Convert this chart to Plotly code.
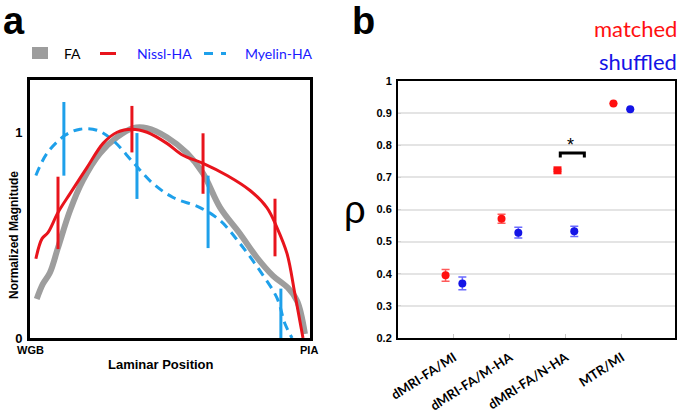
import plotly.graph_objects as go

W, H = 682, 416

# ---------------- Panel a data ----------------
fa_x = [0.024, 0.046, 0.071, 0.100, 0.143, 0.189, 0.250, 0.311, 0.368, 0.418, 0.489, 0.561, 0.618, 0.679, 0.750, 0.811, 0.868, 0.921, 0.954, 0.982]
fa_y = [0.190, 0.263, 0.317, 0.439, 0.620, 0.766, 0.898, 0.976, 1.020, 1.020, 0.976, 0.898, 0.800, 0.634, 0.507, 0.390, 0.302, 0.244, 0.180, 0.020]

nissl_x = [0.021, 0.043, 0.064, 0.100, 0.143, 0.204, 0.261, 0.311, 0.364, 0.418, 0.489, 0.546, 0.618, 0.704, 0.786, 0.846, 0.882, 0.918, 0.946, 0.975]
nissl_y = [0.385, 0.483, 0.512, 0.610, 0.702, 0.829, 0.946, 1.000, 1.015, 1.000, 0.946, 0.888, 0.849, 0.790, 0.717, 0.634, 0.537, 0.410, 0.215, 0.000]

myelin_x = [0.021, 0.061, 0.125, 0.179, 0.239, 0.296, 0.368, 0.439, 0.511, 0.607, 0.679, 0.750, 0.821, 0.882, 0.911, 0.936]
myelin_y = [0.790, 0.898, 0.985, 1.015, 1.010, 0.961, 0.854, 0.751, 0.683, 0.634, 0.571, 0.459, 0.327, 0.195, 0.068, 0.000]

nissl_err_x = [0.100, 0.364, 0.618, 0.875]
nissl_err_c = [0.608, 1.015, 0.848, 0.537]
nissl_err_h = [0.176, 0.113, 0.147, 0.140]

myelin_err_x = [0.121, 0.382, 0.636, 0.896]
myelin_err_c = [0.968, 0.836, 0.613, 0.120]
myelin_err_h = [0.179, 0.160, 0.176, 0.120]

# ---------------- Panel b data ----------------
categories = ["dMRI-FA/MI", "dMRI-FA/M-HA", "dMRI-FA/N-HA", "MTR/MI"]
matched = [0.395, 0.571, 0.722, 0.930]
matched_err = [0.018, 0.014, 0.003, 0.0]
shuffled = [0.370, 0.528, 0.532, 0.912]
shuffled_err = [0.020, 0.017, 0.016, 0.0]
y_ticks = [0.2, 0.3, 0.4, 0.5, 0.6, 0.7, 0.8, 0.9, 1.0]
y_tick_text = ["0.2", "0.3", "0.4", "0.5", "0.6", "0.7", "0.8", "0.9", "1"]

GRAY = "#9d9d9d"
RED = "#e8141c"
LBLUE = "#1ea0ea"
TXTBLUE = "#1a1aff"
BRED = "#ff1010"
BBLUE = "#1414e6"
ARIAL = "Arial, Liberation Sans, sans-serif"
CAL = "Lato, Open Sans, sans-serif"


def px(x):
    return x / W


def py(y):
    return 1 - y / H


fig = go.Figure()

fig.add_trace(go.Scatter(x=fa_x, y=fa_y, mode="lines", line=dict(color=GRAY, width=6, shape="spline"),
                         xaxis="x", yaxis="y", showlegend=False))
fig.add_trace(go.Scatter(x=myelin_x, y=myelin_y, mode="lines",
                         line=dict(color=LBLUE, width=3, shape="spline", dash="9px,6px"),
                         xaxis="x", yaxis="y", showlegend=False))
fig.add_trace(go.Scatter(x=nissl_x, y=nissl_y, mode="lines", line=dict(color=RED, width=3, shape="spline"),
                         xaxis="x", yaxis="y", showlegend=False))
fig.add_trace(go.Scatter(x=nissl_err_x, y=nissl_err_c, mode="markers", marker=dict(size=1, color=RED, opacity=0),
                         error_y=dict(type="data", array=nissl_err_h, color=RED, thickness=3, width=0),
                         xaxis="x", yaxis="y", showlegend=False))
fig.add_trace(go.Scatter(x=myelin_err_x, y=myelin_err_c, mode="markers", marker=dict(size=1, color=LBLUE, opacity=0),
                         error_y=dict(type="data", array=myelin_err_h, color=LBLUE, thickness=3, width=0),
                         xaxis="x", yaxis="y", showlegend=False))

# Panel b
xm = [i + 1 - 0.15 for i in range(len(categories))]
xs = [i + 1 + 0.15 for i in range(len(categories))]
fig.add_trace(go.Scatter(x=xm, y=matched, mode="markers",
                         marker=dict(color=BRED, size=8, symbol=["circle", "circle", "square", "circle"]),
                         error_y=dict(type="data", array=matched_err, color="#ff5a5a", thickness=1.5, width=4),
                         xaxis="x2", yaxis="y2", showlegend=False, cliponaxis=False))
fig.add_trace(go.Scatter(x=xs, y=shuffled, mode="markers",
                         marker=dict(color=BBLUE, size=8),
                         error_y=dict(type="data", array=shuffled_err, color="#6a6aff", thickness=1.5, width=4),
                         xaxis="x2", yaxis="y2", showlegend=False, cliponaxis=False))

axis_font_a = dict(family=ARIAL, size=13, color="black")

fig.update_layout(
    width=W, height=H, margin=dict(l=0, r=0, t=0, b=0, autoexpand=False),
    paper_bgcolor="white", plot_bgcolor="white",
    xaxis=dict(domain=[px(30), px(310)], range=[0, 1], anchor="y", showgrid=False, zeroline=False,
               showline=True, mirror=True, linecolor="black", linewidth=3, automargin=False,
               tickmode="array", tickvals=[], ticks=""),
    yaxis=dict(domain=[py(338), py(80)], range=[0, 1.254], anchor="x", showgrid=False, zeroline=False,
               showline=True, mirror=True, linecolor="black", linewidth=3, automargin=False,
               tickmode="array", tickvals=[0, 1], ticktext=["<b>0</b>", "<b>1</b>"],
               tickfont=axis_font_a, ticks="", ticklabelstandoff=2),
    xaxis2=dict(domain=[px(398), px(675)], range=[0, 4.95], anchor="y2", showgrid=False, zeroline=False,
                showline=True, mirror=True, linecolor="black", linewidth=2, automargin=False,
                tickmode="array", tickvals=[1, 2, 3, 4],
                ticktext=["<b>%s</b>" % c for c in categories],
                tickangle=-33, tickfont=dict(family=CAL, size=13, color="black"),
                ticks="inside", ticklen=4, tickcolor="#c8c8c8", tickwidth=1, ticklabelstandoff=5),
    yaxis2=dict(domain=[py(338), py(81)], range=[0.2, 1.0], anchor="x2", showgrid=True, gridcolor="#e4e4e4",
                gridwidth=1.5, zeroline=False, showline=True, mirror=True, linecolor="black", linewidth=2,
                automargin=False,
                tickmode="array", tickvals=y_ticks, ticktext=["<b>%s</b>" % t for t in y_tick_text],
                tickfont=dict(family=ARIAL, size=11, color="black"), ticks="inside", ticklen=3,
                tickcolor="#d0d0d0", ticklabelstandoff=2),
)

shapes = []
# legend symbols for panel a
shapes.append(dict(type="rect", xref="paper", yref="paper", x0=px(32), x1=px(48), y0=py(59), y1=py(47),
                   fillcolor=GRAY, line=dict(width=0)))
shapes.append(dict(type="line", xref="paper", yref="paper", x0=px(100), x1=px(116), y0=py(53.5), y1=py(53.5),
                   line=dict(color=RED, width=3)))
shapes.append(dict(type="line", xref="paper", yref="paper", x0=px(204), x1=px(213), y0=py(53.5), y1=py(53.5),
                   line=dict(color=LBLUE, width=3)))
shapes.append(dict(type="line", xref="paper", yref="paper", x0=px(221), x1=px(226), y0=py(53.5), y1=py(53.5),
                   line=dict(color=LBLUE, width=3)))
# significance bracket in panel b
shapes.append(dict(type="path", xref="x2", yref="y2",
                   path="M 2.90,0.762 L 2.90,0.776 L 3.33,0.776 L 3.33,0.762",
                   line=dict(color="black", width=3)))
fig.update_layout(shapes=shapes)

ann = []


def text(x, y, s, size, color="black", family=ARIAL, xanchor="center", angle=0):
    ann.append(dict(x=px(x), y=py(y), xref="paper", yref="paper", text=s, showarrow=False,
                    font=dict(family=family, size=size, color=color), xanchor=xanchor, yanchor="middle",
                    textangle=angle))


text(1, 21, "<b>a</b>", 38, xanchor="left")
text(350, 21, "<b>b</b>", 38, xanchor="left")
text(62, 54, "FA", 14, family=CAL, xanchor="left")
text(135, 54, "Nissl-HA", 14, color=TXTBLUE, family=CAL, xanchor="left")
text(243, 54, "Myelin-HA", 14, color=TXTBLUE, family=CAL, xanchor="left")
text(14, 235, "<b>Normalized Magnitude</b>", 12, angle=-90)
text(161, 364, "<b>Laminar Position</b>", 13)
text(30, 350, "<b>WGB</b>", 11)
text(309, 350, "<b>PIA</b>", 11)
text(355, 210, "ρ", 38, family=ARIAL)
text(679, 29, "matched", 22, color=BRED, family=CAL, xanchor="right")
text(679, 61, "shuffled", 22, color=BBLUE, family=CAL, xanchor="right")
ann.append(dict(x=3.09, y=0.800, xref="x2", yref="y2", text="*", showarrow=False,
                font=dict(family=ARIAL, size=18, color="black"), xanchor="center", yanchor="middle"))
fig.update_layout(annotations=ann)

fig.write_html("out.html", config={"displayModeBar": False},
               post_script="document.body.style.margin='0';document.body.style.overflow='hidden';")
